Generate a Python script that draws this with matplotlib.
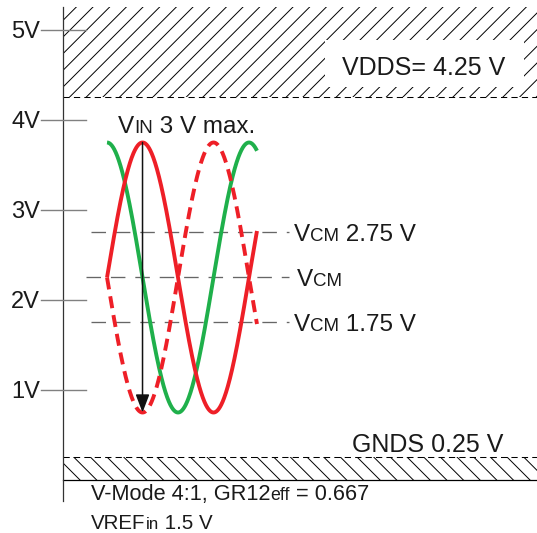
import numpy as np
import matplotlib
matplotlib.use("Agg")
import matplotlib.pyplot as plt
from matplotlib.patches import Rectangle

plt.rcParams["font.family"] = ["Liberation Sans", "DejaVu Sans"]
plt.rcParams["hatch.linewidth"] = 0.7

# levels (V)
volt_ticks = [1, 2, 3, 4, 5]
tick_labels = ["1V", "2V", "3V", "4V", "5V"]
vdds = 4.25
gnds = 0.25
vcm = 2.25
vcm_levels = [2.75, 2.25, 1.75]
vcm_labels = [" 2.75 V", "", " 1.75 V"]
vin_amp = 1.5          # 3 V peak-to-peak
# waveforms, time in periods
t_start = 0.31
t_stop = 1.366

RED = "#ee1f27"
GREEN = "#1fb04b"
TXT = "#1a1a1a"

fig = plt.figure(figsize=(5.37, 5.33), dpi=100)
ax = fig.add_axes([0, 0, 1, 1])
ax.set_xlim(-0.4437, 3.338)
ax.set_ylim(-0.5889, 5.3333)
ax.axis("off")
x_right = 3.338
y_top = 5.256

# hatched forbidden zones
ax.add_patch(Rectangle((0, vdds), x_right, y_top - vdds, fill=False, hatch="//",
                       edgecolor="black", lw=0, zorder=1))
ax.add_patch(Rectangle((0, 0), x_right, gnds, fill=False, hatch="\\\\",
                       edgecolor="black", lw=0, zorder=1))
ax.plot([0, x_right], [vdds, vdds], color="black", lw=0.75, ls=(0, (6, 4)), zorder=2)
ax.plot([0, x_right], [gnds, gnds], color="black", lw=0.75, ls=(0, (6, 4)), zorder=2)
ax.plot([0, x_right], [0, 0], color="black", lw=0.9, zorder=2)
# white box behind VDDS label
ax.add_patch(Rectangle((1.845, 4.367), 1.40, 0.522, facecolor="white",
                       edgecolor="none", zorder=1.5))

# vertical axis + ticks
ax.plot([0, 0], [-0.233, y_top], color="#333333", lw=0.9, zorder=3)
for v, lab in zip(volt_ticks, tick_labels):
    ax.plot([-0.155, 0.162], [v, v], color="#808080", lw=1.0, zorder=3)
    ax.text(-0.162, v - 0.089, lab, ha="right", va="baseline", fontsize=17, color=TXT)

# common mode reference lines
for lvl in vcm_levels:
    x0 = 0.162 if lvl == vcm else 0.197
    ax.plot([x0, 1.592], [lvl, lvl], color="#666666", lw=0.95, ls=(0, (11, 7.5)), zorder=2)

# waveforms
t = np.linspace(t_start, t_stop, 500)
ph = 2 * np.pi * (t - t_start)
ax.plot(t, vcm + vin_amp * np.cos(ph), color=GREEN, lw=2.8, zorder=4, solid_capstyle="butt")
ax.plot(t, vcm - vin_amp * np.sin(ph), color=RED, lw=2.8, ls=(0, (3.1, 1.8)), zorder=5)
ax.plot(t, vcm + vin_amp * np.sin(ph), color=RED, lw=2.8, zorder=6, solid_capstyle="butt")

# peak-to-peak arrow
t_peak = t_start + 0.25
ax.annotate("", xy=(t_peak, vcm - vin_amp), xytext=(t_peak, vcm + vin_amp),
            arrowprops=dict(arrowstyle="-|>,head_length=1.1,head_width=0.42",
                            mutation_scale=10, color="#111111", lw=1.1,
                            shrinkA=0, shrinkB=0), zorder=7)

renderer = fig.canvas.get_renderer()


def rich(x, y, parts):
    xd, yd = ax.transData.transform((x, y))
    for s, size in parts:
        if not s:
            continue
        xx, yy = ax.transData.inverted().transform((xd, yd))
        txt = ax.text(xx, yy, s, fontsize=size, ha="left", va="baseline", color=TXT, zorder=8)
        xd += txt.get_window_extent(renderer).width


rich(0.387, 3.856, [("V", 17.5), ("IN", 13.5), (" 3 V max.", 17.5)])
for lvl, lab in zip(vcm_levels, vcm_labels):
    x0 = 1.65 if lvl == vcm else 1.627
    rich(x0, lvl - 0.094, [("V", 17.5), ("CM", 13.5), (lab, 17.5)])

rich(1.965, 4.50, [("VDDS= 4.25 V", 18)])
rich(2.035, 0.311, [("GNDS 0.25 V", 18)])
rich(0.197, -0.222, [("V-Mode 4:1, GR12", 15.7), ("eff", 12.8), (" = 0.667", 15.7)])
rich(0.197, -0.544, [("VREF", 14.8), ("in", 12.2), (" 1.5 V", 14.8)])

fig.savefig("out.png", dpi=100)
